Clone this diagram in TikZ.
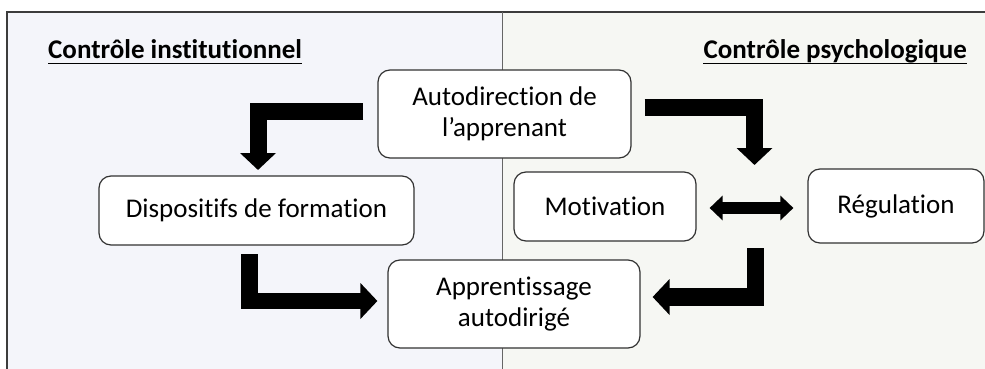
\documentclass[tikz,border=0pt]{standalone}
\usepackage{fontspec}
\setmainfont{Carlito}[Ligatures=NoCommon]
\usetikzlibrary{arrows.meta}
\definecolor{leftbg}{RGB}{244,245,250}
\definecolor{rightbg}{RGB}{246,247,243}
\definecolor{frame}{RGB}{60,60,60}
\definecolor{boxline}{RGB}{50,50,50}
\tikzset{
  box/.style={draw=boxline, line width=1.2pt, fill=white, rounded corners=12pt,
    align=center, inner sep=0pt, font=\fontsize{27}{31}\selectfont},
  title/.style={inner sep=0pt, font=\fontsize{27}{31}\selectfont\bfseries},
  blockarrow/.style={line width=17pt, -{Triangle[length=17pt,width=35pt]}},
  dblarrow/.style={line width=12pt, {Triangle[length=13pt,width=24pt]}-{Triangle[length=13pt,width=24pt]}}
}
\begin{document}
\begin{tikzpicture}[x=1pt,y=-1pt]
\useasboundingbox (0,0) rectangle (985,369);
\clip (0,0) rectangle (985,369);
% panels
\fill[leftbg] (7,12) rectangle (502,380);
\fill[rightbg] (502,12) rectangle (995,380);
\draw[frame, line width=1.5pt] (7,380) -- (7,12) -- (995,12);
\draw[gray!80!black, line width=1pt] (502,12) -- (502,380);
% titles
\node[title, anchor=base west] (t1) at (48,59) {Contrôle institutionnel};
\node[title, anchor=base east] (t2) at (967,59) {Contrôle psychologique};
\draw[line width=1.8pt] ([yshift=-4.5pt]t1.base west) -- ([yshift=-4.5pt]t1.base east);
\draw[line width=1.8pt] ([yshift=-4.5pt]t2.base west) -- ([yshift=-4.5pt]t2.base east);
% boxes
\node[box, minimum width=253pt, minimum height=88pt] (auto) at (504.5,114) {Autodirection de\\l’apprenant};
\node[box, minimum width=315pt, minimum height=69pt] (disp) at (256.5,210.5) {Dispositifs de formation};
\node[box, minimum width=252pt, minimum height=88pt] (appr) at (514,304) {Apprentissage\\autodirigé};
\node[box, minimum width=182pt, minimum height=69pt] (moti) at (605,206.5) {Motivation};
\node[box, minimum width=176pt, minimum height=74pt] (regu) at (896,206) {Régulation};
% arrow anchors
\coordinate (a1s) at ([xshift=-14pt]auto.west |- 0,111.5);
\coordinate (a1e) at (258,170);
\coordinate (a2s) at ([xshift=13pt]auto.east |- 0,107.5);
\coordinate (a2e) at (754.5,165);
\coordinate (a3s) at ([xshift=13pt]moti.east |- 0,208);
\coordinate (a3e) at ([xshift=-14pt]regu.west |- 0,208);
\coordinate (a4s) at (249.5,254);
\coordinate (a4e) at ([xshift=-10pt]appr.west |- 0,301);
\coordinate (a5s) at (755.5,248);
\coordinate (a5e) at ([xshift=12pt]appr.east |- 0,297);
% arrows
\draw[blockarrow] (a1s) -| (a1e);
\draw[blockarrow] (a2s) -| (a2e);
\draw[dblarrow] (a3s) -- (a3e);
\draw[blockarrow, line width=16.5pt] (a4s) |- (a4e);
\draw[blockarrow, line width=17.5pt] (a5s) |- (a5e);
\end{tikzpicture}
\end{document}
